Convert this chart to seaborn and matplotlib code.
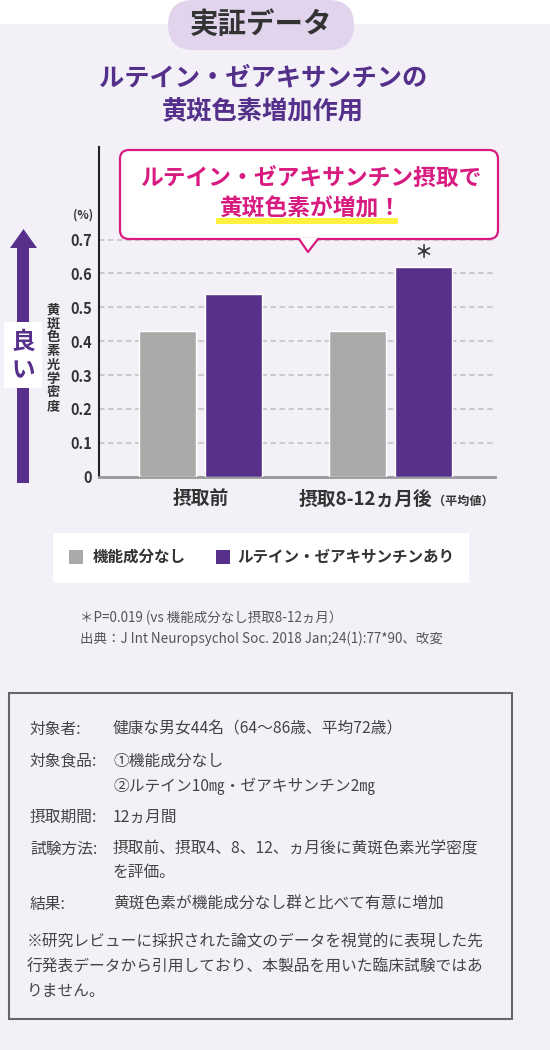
import matplotlib.pyplot as plt
import matplotlib.patches as mpatches
import matplotlib.transforms as mtransforms
import pandas as pd
import seaborn as sns

# chart data
periods = ["摂取前", "摂取8-12ヵ月後"]
period_note = "（平均値）"
groups = ["機能成分なし", "ルテイン・ゼアキサンチンあり"]
placebo = [0.43, 0.43]
lutein = [0.54, 0.62]
yticks = [0, 0.1, 0.2, 0.3, 0.4, 0.5, 0.6, 0.7]
ytick_labels = ["0", "0.1", "0.2", "0.3", "0.4", "0.5", "0.6", "0.7"]
ylabel = "黄斑色素光学密度"
unit = "(%)"
better = "良い"
sig_mark = "＊"

badge = "実証データ"
title_lines = ["ルテイン・ゼアキサンチンの", "黄斑色素増加作用"]
callout_lines = ["ルテイン・ゼアキサンチン摂取で", "黄斑色素が増加！"]
footnotes = ["＊P=0.019 (vs 機能成分なし摂取8-12ヵ月）",
             "出典：J Int Neuropsychol Soc. 2018 Jan;24(1):77*90、改変"]
detail_labels = ["対象者:", "対象食品:", "", "摂取期間:", "試験方法:", "", "結果:"]
detail_values = ["健康な男女44名（64〜86歳、平均72歳）",
                 "①機能成分なし",
                 "②ルテイン10㎎・ゼアキサンチン2㎎",
                 "12ヵ月間",
                 "摂取前、摂取4、8、12、ヵ月後に黄斑色素光学密度",
                 "を評価。",
                 "黄斑色素が機能成分なし群と比べて有意に増加"]
disclaimer = ["※研究レビューに採択された論文のデータを視覚的に表現した先",
              "行発表データから引用しており、本製品を用いた臨床試験ではあ",
              "りません。"]

colors = ["#aaaaaa", "#56308a"]
purple = "#56308a"
magenta = "#d81b80"
bg_color = "#f3f1f7"
text_dark = "#333333"

sns.set_theme(style="white")
plt.rcParams["font.family"] = ["Noto Sans CJK JP", "DejaVu Sans"]

W, H = 550, 1050
fig = plt.figure(figsize=(5.5, 10.5), dpi=100)
fig.patch.set_facecolor(bg_color)

# pixel canvases (1 unit = 1 px, y downwards)
def canvas(z):
    c = fig.add_axes([0, 0, 1, 1], zorder=z)
    c.set_xlim(0, W)
    c.set_ylim(H, 0)
    c.axis("off")
    return c

bg = canvas(-1)
fg = canvas(2)

# top white strip and badge
bg.add_patch(mpatches.Rectangle((0, 0), W, 24, fc="white", ec="none"))
bg.add_patch(mpatches.FancyBboxPatch((168, 0), 186, 50,
                                     boxstyle="round,pad=0,rounding_size=25",
                                     fc="#e1d4ec", ec="none"))
bg.text(261, 25, badge, ha="center", va="center", fontsize=20.5,
        fontweight="bold", color=text_dark)

for i, line in enumerate(title_lines):
    bg.text(263, 78 + 34 * i, line, ha="center", va="center", fontsize=18.2,
            fontweight="bold", color="#55308a")

# main bar chart
df = pd.DataFrame({
    "period": periods * 2,
    "group": [groups[0]] * len(periods) + [groups[1]] * len(periods),
    "value": placebo + lutein,
})

ax = fig.add_axes([99 / W, 1 - 476.7 / H, 396 / W, 329.7 / H], zorder=1)
ax.patch.set_visible(False)
sns.barplot(data=df, x="period", y="value", hue="group", order=periods,
            hue_order=groups, palette=colors, saturation=1, width=0.695,
            gap=0.136, errorbar=None, legend=False, ax=ax, zorder=3)

ax.set_ylim(0, 0.973)
ax.set_xlim(-0.534, 1.55)
ax.set_yticks(yticks, ytick_labels)
ax.yaxis.grid(True, linestyle=(0, (3, 2)), color="#c8c8c8", linewidth=1.3)
ax.xaxis.grid(False)
ax.set_axisbelow(True)
ax.set_xlabel("")
ax.set_ylabel("")
ax.tick_params(axis="y", length=0, pad=5, labelsize=10.5, labelcolor=text_dark)
ax.tick_params(axis="x", length=0, pad=9, labelsize=13.5, labelcolor=text_dark)
for lab in ax.get_yticklabels() + ax.get_xticklabels():
    lab.set_fontweight("bold")
for s in ["top", "right"]:
    ax.spines[s].set_visible(False)
ax.spines["left"].set_color("#222222")
ax.spines["left"].set_linewidth(1.5)
ax.spines["bottom"].set_color("#999999")
ax.spines["bottom"].set_linewidth(2)

# shift 2nd tick label left to make room for the note
lab2 = ax.get_xticklabels()[1]
lab2.set_transform(lab2.get_transform()
                   + mtransforms.ScaledTranslation(-0.25, 0, fig.dpi_scale_trans))
fg.text(433, 501, period_note, ha="left", va="center", fontsize=8.7,
        fontweight="bold", color=text_dark)

# significance mark over the last bar
bar = ax.containers[1][1]
ax.annotate(sig_mark, xy=(bar.get_x() + bar.get_width() / 2, bar.get_height()),
            xytext=(0, 14), textcoords="offset pixels", ha="center",
            va="center", fontsize=13, fontweight="bold", color=text_dark)

# y label, unit and "better" arrow
fg.text(53, 358, "\n".join(ylabel), ha="center", va="center", fontsize=9.5,
        fontweight="bold", color=text_dark, linespacing=0.98)
fg.text(83, 215, unit, ha="center", va="center", fontsize=8.5,
        fontweight="bold", color=text_dark)
bg.add_patch(mpatches.Rectangle((17, 247), 12, 236, fc=purple, ec="none"))
bg.add_patch(mpatches.Polygon([(10, 248), (37, 248), (23.5, 229)],
                              closed=True, fc=purple, ec="none"))
bg.add_patch(mpatches.Rectangle((4, 322), 38, 66, fc="white", ec="none"))
for i, ch in enumerate(better):
    bg.text(23, 342 + 28 * i, ch, ha="center", va="center", fontsize=17,
            fontweight="bold", color=purple)

# callout
fg.add_patch(mpatches.FancyBboxPatch((120, 150), 378, 89,
                                     boxstyle="round,pad=0,rounding_size=9",
                                     fc="white", ec=magenta, lw=1.6))
fg.add_patch(mpatches.Polygon([(299, 238), (308, 252), (318, 238)],
                              closed=True, fc="white", ec="none", zorder=3))
fg.plot([299, 308, 318], [239, 252, 239], color=magenta, lw=1.6, zorder=4)
fg.add_patch(mpatches.Rectangle((216, 218), 182, 6, fc="#fff23f", ec="none",
                                zorder=4))
for i, line in enumerate(callout_lines):
    fg.text(311, 178 + 31 * i, line, ha="center", va="center", fontsize=16.4,
            fontweight="bold", color=magenta, zorder=5)

# legend
bg.add_patch(mpatches.Rectangle((53, 533), 416, 50, fc="white", ec="none"))
for (sx, tx), name, col in zip([(69, 93), (216, 237)], groups, colors):
    bg.add_patch(mpatches.Rectangle((sx, 550), 14, 14, fc=col, ec="none"))
    bg.text(tx, 557, name, ha="left", va="center", fontsize=11.2,
            fontweight="bold", color=text_dark)

# footnotes
for i, line in enumerate(footnotes):
    bg.text(80, 618 + 21 * i, line, ha="left", va="center", fontsize=9.7,
            color="#555555")

# study details box
bg.add_patch(mpatches.Rectangle((9, 693), 503, 326, fc="none", ec="#666666",
                                lw=1.5))
row_y = [729, 761, 786, 817, 849, 873, 904]
for y, lab, val in zip(row_y, detail_labels, detail_values):
    if lab:
        bg.text(30, y, lab, ha="left", va="center", fontsize=11.3,
                color="#444444")
    bg.text(113, y, val, ha="left", va="center", fontsize=11.3,
            color="#444444")
for i, line in enumerate(disclaimer):
    bg.text(27, 942 + 24.7 * i, line, ha="left", va="center", fontsize=11.3,
            color="#444444")

fig.savefig("out.png", dpi=100, facecolor=fig.get_facecolor())
